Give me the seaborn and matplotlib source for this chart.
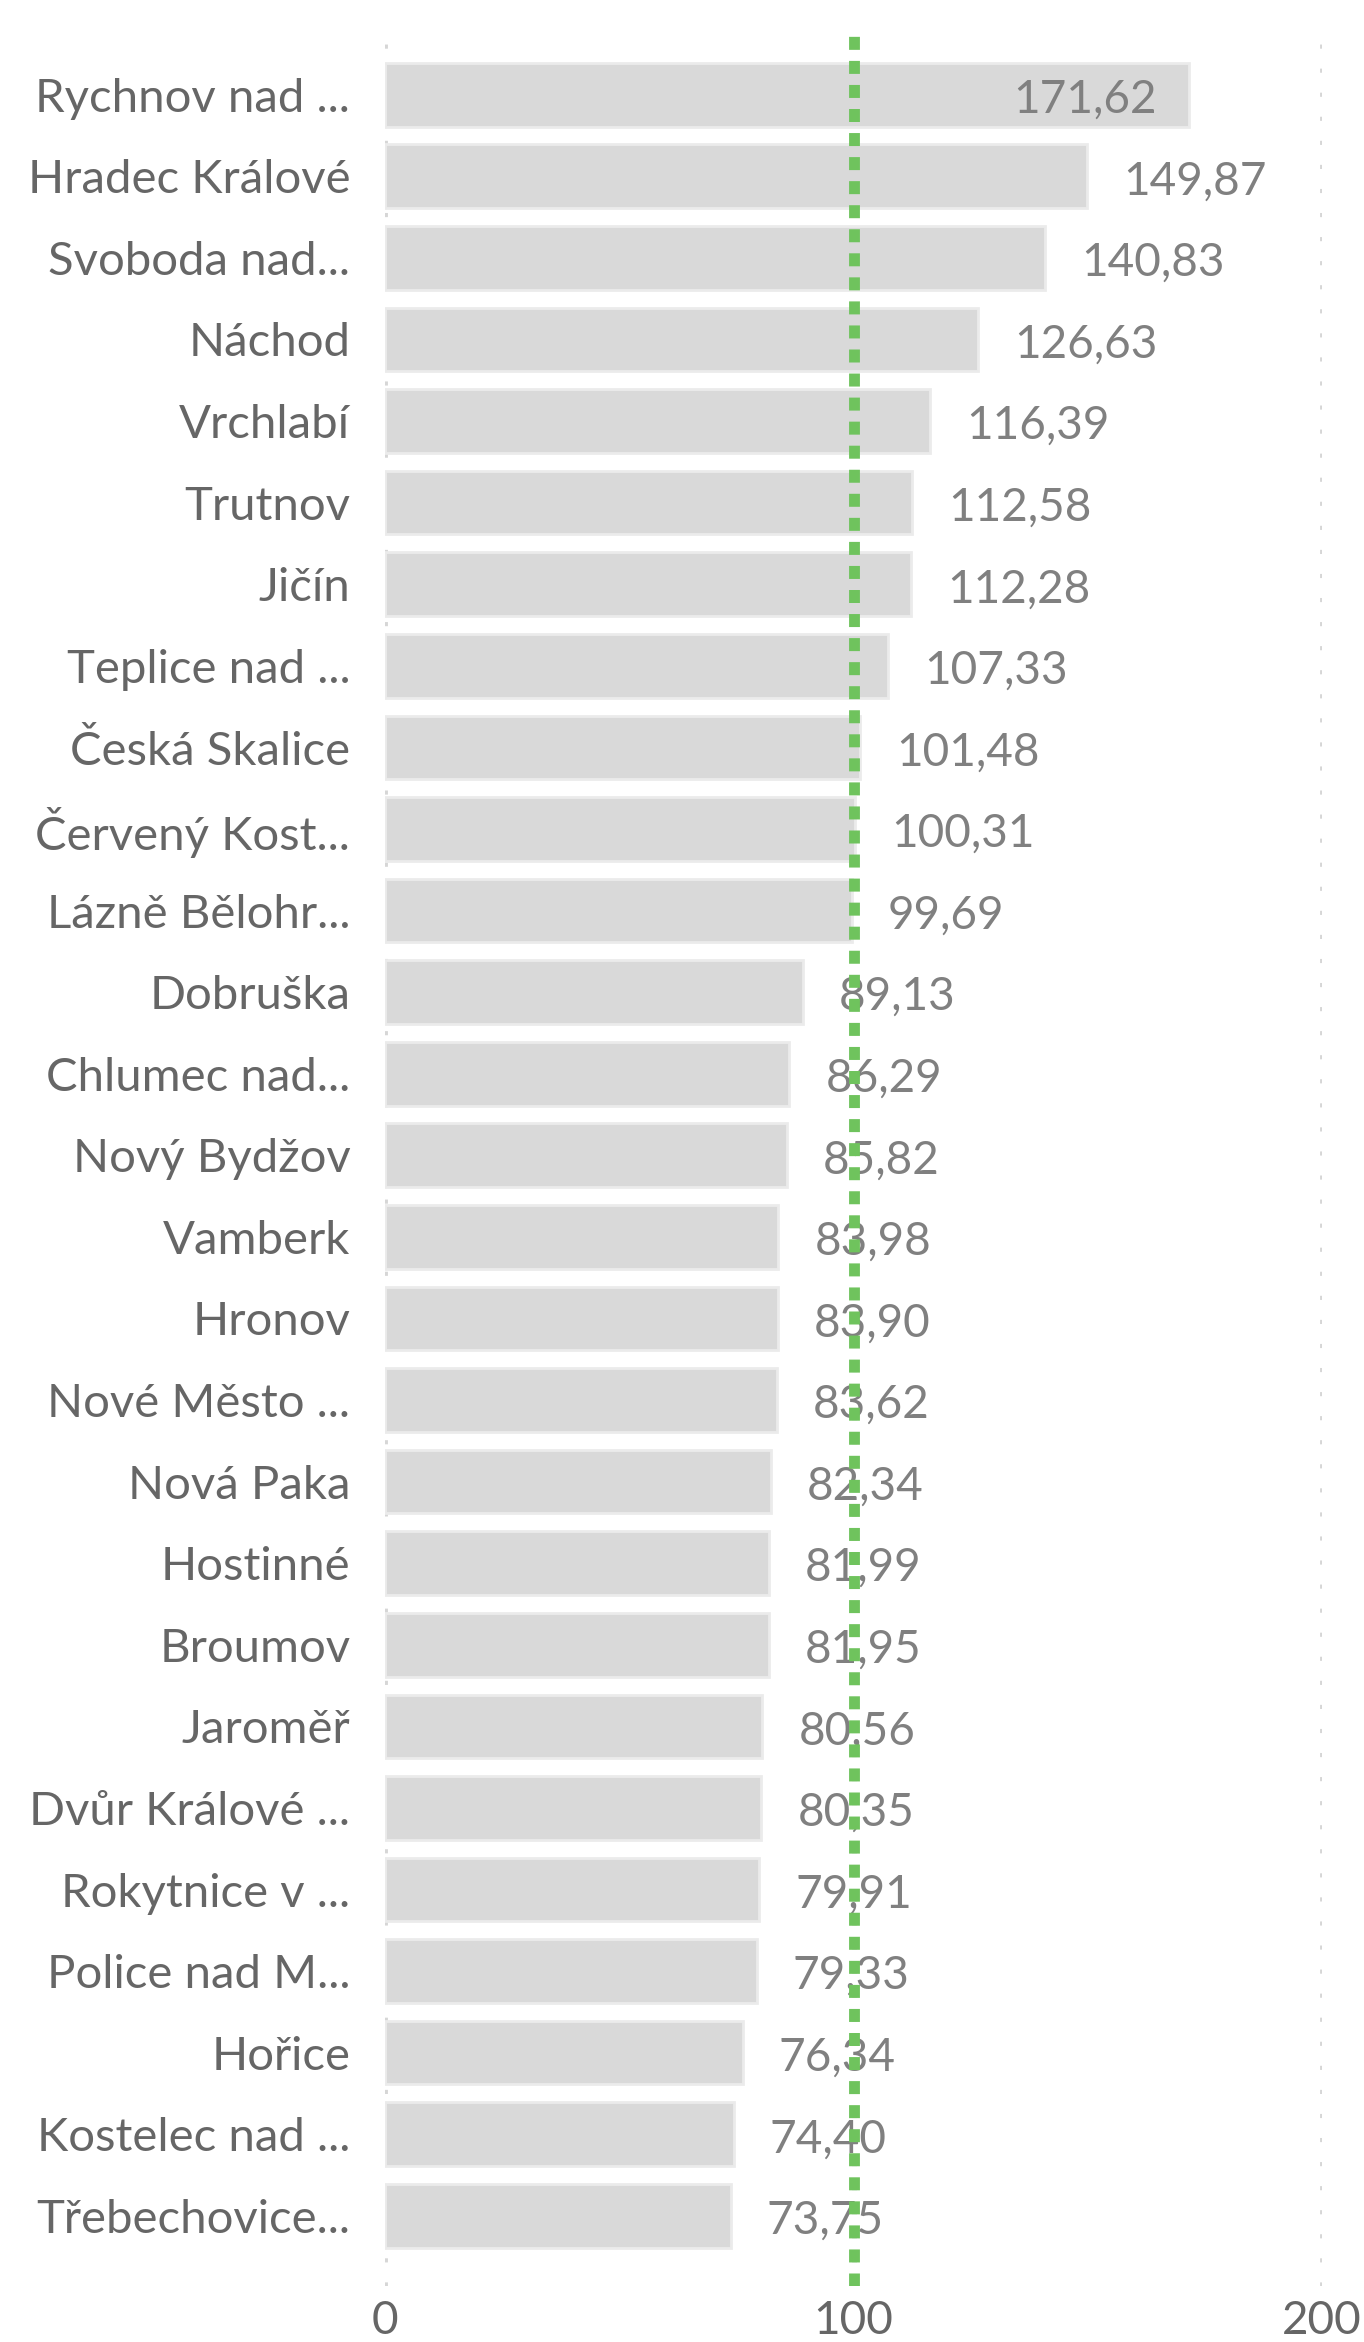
import matplotlib
matplotlib.use('Agg')
import matplotlib.pyplot as plt
import seaborn as sns
import pandas as pd

# Data
mesta = ['Rychnov nad ...', 'Hradec Králové', 'Svoboda nad...', 'Náchod', 'Vrchlabí',
         'Trutnov', 'Jičín', 'Teplice nad ...', 'Česká Skalice', 'Červený Kost...',
         'Lázně Bělohr...', 'Dobruška', 'Chlumec nad...', 'Nový Bydžov', 'Vamberk',
         'Hronov', 'Nové Město ...', 'Nová Paka', 'Hostinné', 'Broumov', 'Jaroměř',
         'Dvůr Králové ...', 'Rokytnice v ...', 'Police nad M...', 'Hořice',
         'Kostelec nad ...', 'Třebechovice...']
hodnoty = [171.62, 149.87, 140.83, 126.63, 116.39, 112.58, 112.28, 107.33, 101.48,
           100.31, 99.69, 89.13, 86.29, 85.82, 83.98, 83.90, 83.62, 82.34, 81.99,
           81.95, 80.56, 80.35, 79.91, 79.33, 76.34, 74.40, 73.75]
x_ticks = [0, 100, 200]
referencni_hodnota = 100

df = pd.DataFrame({'mesto': mesta, 'hodnota': hodnoty})

sns.set_style('white')
plt.rcParams['font.family'] = ['Lato', 'DejaVu Sans']

fig = plt.figure(figsize=(13.64, 23.42), dpi=100)
ax = fig.add_axes([385 / 1364, 1 - 2286 / 2342, (1322 - 385) / 1364, (2286 - 27) / 2342])

sns.barplot(data=df, y='mesto', x='hodnota', orient='h', color='#d9d9d9',
            edgecolor='#ebebeb', linewidth=2, width=0.78, ax=ax, zorder=2)

ax.set_xlim(0, 200)
ax.set_ylim(len(mesta) - 1 + 0.86, -0.83)
ax.set_xticks(x_ticks)
ax.set_xticklabels([str(t) for t in x_ticks])
ax.set_xlabel('')
ax.set_ylabel('')
for s in ax.spines.values():
    s.set_visible(False)

# dotted gridlines
for t in x_ticks:
    ax.axvline(t, color='#d6d6d6', lw=3.5, ls=(0, (0.85, 4.1)), zorder=1)

# reference line
ax.axvline(referencni_hodnota, color='#6fc35d', lw=7.8, ls=(0, (1.2, 1.02)), zorder=5)

ax.tick_params(axis='y', length=0, pad=25, labelsize=34, labelcolor='#666666')
ax.tick_params(axis='x', length=0, pad=10, labelsize=33, labelcolor='#666666')

# data labels
for i, v in enumerate(hodnoty):
    txt = f'{v:.2f}'.replace('.', ',')
    if v > 160:
        ax.annotate(txt, (v, i), xytext=(-32, -5), textcoords='offset pixels',
                    ha='right', va='center', fontsize=33, color='#808080', zorder=4)
    else:
        ax.annotate(txt, (v, i), xytext=(36, -5), textcoords='offset pixels',
                    ha='left', va='center', fontsize=33, color='#808080', zorder=4)

fig.savefig('out.png', dpi=100, facecolor='white')
